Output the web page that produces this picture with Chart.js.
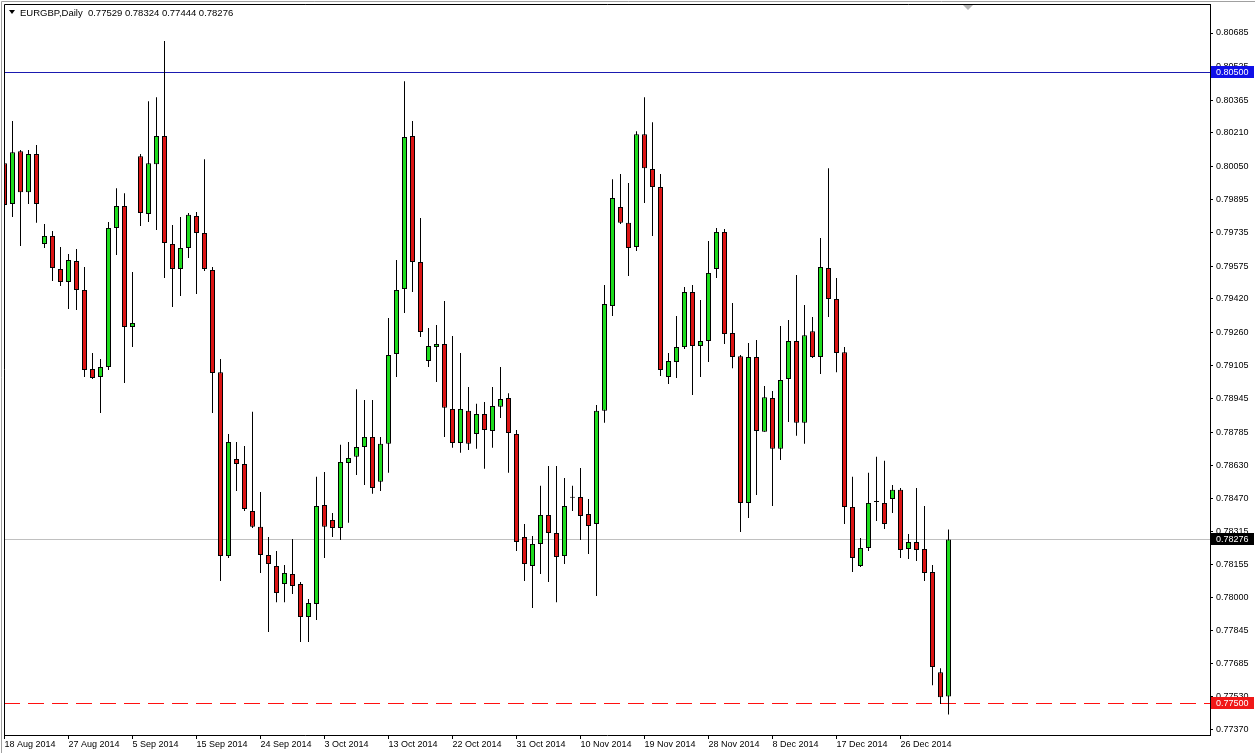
<!DOCTYPE html>
<html>
<head>
<meta charset="utf-8">
<title>EURGBP,Daily</title>
<script src="https://cdn.jsdelivr.net/npm/chart.js@4.4.1/dist/chart.umd.min.js"></script>
<style>
  html, body { margin: 0; padding: 0; background: #fff; }
  canvas { display: block; }
</style>
</head>
<body>
<canvas id="myChart" width="1255" height="753"></canvas>
<script>
const symbol = "EURGBP,Daily";

// daily candles, one per bar
const openP = [0.80066,0.79872,0.80123,0.79928,0.80109,0.79682,0.79720,0.79563,0.79501,0.79600,
  0.79463,0.79087,0.79049,0.79096,0.79758,0.79862,0.79287,0.80099,0.79824,0.80061,
  0.80195,0.79682,0.79563,0.79663,0.79815,0.79734,0.79558,0.79072,0.78197,0.78659,
  0.78635,0.78412,0.78336,0.78202,0.78150,0.78064,0.78112,0.78064,0.77907,0.77969,
  0.78440,0.78369,0.78331,0.78640,0.78669,0.78716,0.78764,0.78550,0.78731,0.79158,
  0.79467,0.80195,0.79596,0.79125,0.79191,0.79206,0.78897,0.78735,0.78888,0.78778,
  0.78873,0.78792,0.78907,0.78949,0.78778,0.78288,0.78150,0.78255,0.78393,0.78307,
  0.78197,0.78474,0.78478,0.78397,0.78350,0.78888,0.79386,0.79858,0.79782,0.79667,
  0.80204,0.80038,0.79952,0.79049,0.79120,0.79191,0.79453,0.79196,0.79220,0.79563,
  0.79739,0.79258,0.79148,0.78450,0.79144,0.78788,0.78949,0.78707,0.79039,0.79220,
  0.78831,0.79267,0.79144,0.79567,0.79420,0.79167,0.78431,0.78150,0.78236,0.78454,
  0.78450,0.78469,0.78512,0.78231,0.78264,0.78231,0.78121,0.77645,0.77529];
const highP = [0.80080,0.80266,0.80128,0.80128,0.80152,0.79777,0.79743,0.79667,0.79634,0.79658,
  0.79572,0.79163,0.79134,0.79786,0.79947,0.79923,0.79548,0.80109,0.80361,0.80380,
  0.80647,0.79772,0.79810,0.79829,0.79834,0.80085,0.79572,0.79134,0.78778,0.78740,
  0.78721,0.78883,0.78502,0.78288,0.78221,0.78155,0.78278,0.78074,0.77993,0.78574,
  0.78597,0.78402,0.78726,0.78740,0.78991,0.78940,0.78940,0.78764,0.79329,0.79605,
  0.80456,0.80266,0.79805,0.79282,0.79296,0.79410,0.79244,0.79163,0.79001,0.78921,
  0.78930,0.79001,0.79096,0.78972,0.78797,0.78350,0.78293,0.78531,0.78626,0.78626,
  0.78569,0.78531,0.78616,0.78469,0.78916,0.79486,0.79990,0.80014,0.79971,0.80218,
  0.80380,0.80261,0.80014,0.79163,0.79339,0.79477,0.79486,0.79415,0.79696,0.79758,
  0.79753,0.79401,0.79153,0.79210,0.79225,0.79006,0.78982,0.79291,0.79320,0.79534,
  0.79391,0.79334,0.79710,0.80042,0.79520,0.79191,0.78574,0.78283,0.78593,0.78669,
  0.78650,0.78535,0.78521,0.78302,0.78521,0.78435,0.78155,0.77664,0.78324];
const lowP = [0.79829,0.79810,0.79672,0.79872,0.79782,0.79663,0.79505,0.79482,0.79372,0.79367,
  0.79049,0.79039,0.78878,0.79082,0.79629,0.79020,0.79191,0.79767,0.79786,0.79748,
  0.79520,0.79382,0.79434,0.79615,0.79444,0.79553,0.78878,0.78078,0.78188,0.78507,
  0.78412,0.78331,0.78117,0.77836,0.77978,0.77978,0.78017,0.77788,0.77788,0.77893,
  0.78188,0.78288,0.78274,0.78355,0.78583,0.78535,0.78493,0.78507,0.78593,0.79049,
  0.79353,0.79453,0.79239,0.79096,0.79025,0.78764,0.78712,0.78688,0.78702,0.78707,
  0.78612,0.78712,0.78854,0.78593,0.78221,0.78078,0.77950,0.78112,0.78074,0.77978,
  0.78159,0.78412,0.78274,0.78207,0.78007,0.78831,0.79339,0.79777,0.79529,0.79648,
  0.79877,0.79720,0.79053,0.79015,0.79044,0.79182,0.78963,0.79049,0.79120,0.79520,
  0.79206,0.79091,0.78312,0.78378,0.78488,0.78788,0.78435,0.78654,0.78835,0.78769,
  0.78731,0.79139,0.79063,0.79334,0.79072,0.78350,0.78121,0.78145,0.78221,0.78364,
  0.78326,0.78402,0.78188,0.78183,0.78174,0.78078,0.77583,0.77494,0.77444];
const closeP = [0.79867,0.80118,0.79928,0.80109,0.79872,0.79720,0.79567,0.79501,0.79605,0.79463,
  0.79082,0.79044,0.79096,0.79758,0.79862,0.79287,0.79306,0.79829,0.80066,0.80195,
  0.79686,0.79563,0.79663,0.79820,0.79734,0.79563,0.79068,0.78197,0.78740,0.78635,
  0.78421,0.78336,0.78202,0.78159,0.78021,0.78117,0.78055,0.77907,0.77974,0.78435,
  0.78336,0.78331,0.78645,0.78664,0.78716,0.78764,0.78521,0.78731,0.79153,0.79463,
  0.80190,0.79596,0.79263,0.79196,0.79206,0.78902,0.78735,0.78897,0.78731,0.78873,
  0.78797,0.78911,0.78944,0.78783,0.78264,0.78159,0.78255,0.78393,0.78307,0.78193,
  0.78435,0.78474,0.78388,0.78340,0.78888,0.79396,0.79900,0.79782,0.79663,0.80204,
  0.80042,0.79952,0.79082,0.79125,0.79191,0.79453,0.79196,0.79220,0.79544,0.79739,
  0.79253,0.79144,0.78450,0.79144,0.78792,0.78953,0.78707,0.79034,0.79220,0.78831,
  0.79248,0.79144,0.79572,0.79420,0.79163,0.78431,0.78188,0.78236,0.78450,0.78454,
  0.78350,0.78512,0.78226,0.78264,0.78226,0.78117,0.77669,0.77526,0.78276];

// date label every 8 bars
const labelEvery = 8;
const dateLabels = ["18 Aug 2014","27 Aug 2014","5 Sep 2014","15 Sep 2014","24 Sep 2014",
  "3 Oct 2014","13 Oct 2014","22 Oct 2014","31 Oct 2014","10 Nov 2014","19 Nov 2014",
  "28 Nov 2014","8 Dec 2014","17 Dec 2014","26 Dec 2014"];

// price scale labels
const priceTicks = [0.80685,0.80525,0.80365,0.80210,0.80050,0.79895,0.79735,0.79575,0.79420,
  0.79260,0.79105,0.78945,0.78785,0.78630,0.78470,0.78315,0.78155,0.78000,0.77845,
  0.77685,0.77530,0.77370];

// horizontal levels
const resistLevel = 0.80500;
const supportLevel = 0.77500;
const bidPrice = closeP[closeP.length - 1];

const upColor = "#1ddc1d";
const downColor = "#dc1414";
const fontFam = "'Liberation Sans', Arial, sans-serif";

Chart.defaults.font.family = fontFam;
Chart.defaults.font.size = 9;
Chart.defaults.color = "#000";

const idx = openP.map((_, i) => i);
const wickData = idx.map(i => ({x: i, y: [lowP[i], highP[i]]}));
const bodyData = idx.map(i => ({x: i, y: [openP[i], closeP[i]]}));
const bodyColors = idx.map(i => closeP[i] > openP[i] ? upColor : (closeP[i] < openP[i] ? downColor : "#000"));

// 1px horizontal line, solid or dashed (on/off lengths)
function hLine(c, a, value, scale, color, on, off) {
    const py = Math.round(scale.getPixelForValue(value));
    c.save();
    c.fillStyle = color;
    if (!on) {
        c.fillRect(a.left, py, a.right - a.left, 1);
    } else {
        for (let x = a.left; x < a.right; x += on + off) {
            c.fillRect(x, py, Math.min(on, a.right - x), 1);
        }
    }
    c.restore();
}

// MT4 style extras: levels, price boxes, header, frame
const mtDecor = {
    id: "mtDecor",
    beforeDraw(chart) {
        const c = chart.ctx;
        c.save();
        c.fillStyle = "#fff";
        c.fillRect(0, 0, chart.width, chart.height);
        c.restore();
    },
    beforeDatasetsDraw(chart) {
        const c = chart.ctx;
        const a = chart.chartArea;
        const y = chart.scales.y;
        hLine(c, a, bidPrice, y, "#c0c0c0");
        hLine(c, a, resistLevel, y, "#1a1ab0");
        hLine(c, a, supportLevel, y, "#ff1010", 16, 8);
    },
    afterDraw(chart) {
        const c = chart.ctx;
        const a = chart.chartArea;
        const y = chart.scales.y;
        c.save();
        // outer window frame
        c.strokeStyle = "#a0a0a0";
        c.lineWidth = 1;
        c.beginPath();
        c.moveTo(1.5, chart.height); c.lineTo(1.5, 1.5); c.lineTo(chart.width, 1.5);
        c.stroke();
        // plot frame top + left
        c.strokeStyle = "#000";
        c.beginPath();
        c.moveTo(a.left + 0.5, a.bottom); c.lineTo(a.left + 0.5, a.top + 0.5); c.lineTo(a.right, a.top + 0.5);
        c.stroke();

        // chart shift marker
        c.fillStyle = "#b4b4b4";
        c.beginPath(); c.moveTo(963, 5); c.lineTo(973, 5); c.lineTo(968, 10); c.closePath(); c.fill();

        // header
        c.fillStyle = "#000";
        c.beginPath(); c.moveTo(9, 10); c.lineTo(15, 10); c.lineTo(12, 14); c.closePath(); c.fill();
        const last = openP.length - 1;
        const ohlc = [openP[last], highP[last], lowP[last], closeP[last]].map(v => v.toFixed(5)).join(" ");
        c.font = "9.5px " + fontFam;
        c.textBaseline = "middle";
        c.textAlign = "left";
        c.fillText(symbol + "  " + ohlc, 20, 13);

        // price boxes on the axis
        c.font = "9px " + fontFam;
        const boxes = [
            {v: resistLevel, bg: "#1010e8"},
            {v: bidPrice, bg: "#000"},
            {v: supportLevel, bg: "#f01818"}
        ];
        boxes.forEach(b => {
            const py = Math.round(y.getPixelForValue(b.v));
            c.fillStyle = b.bg;
            c.fillRect(a.right + 1, py - 6, 43, 12);
            c.fillStyle = "#fff";
            c.fillText(b.v.toFixed(5), a.right + 6, py + 0.5);
        });
        c.restore();
    }
};

const ctx = document.getElementById("myChart").getContext("2d");

new Chart(ctx, {
    type: "bar",
    data: {
        datasets: [
            {
                label: "body",
                data: bodyData,
                backgroundColor: bodyColors,
                borderColor: "#000",
                borderWidth: 1,
                borderSkipped: false,
                barThickness: 5,
                minBarLength: 1,
                inflateAmount: 0,
                grouped: false,
                order: 1
            },
            {
                label: "wick",
                data: wickData,
                backgroundColor: "#000",
                borderWidth: 0,
                barThickness: 1,
                inflateAmount: 0,
                grouped: false,
                order: 2
            }
        ]
    },
    options: {
        responsive: false,
        animation: false,
        layout: {padding: {left: 4, top: 4, right: 0, bottom: 0}},
        plugins: {
            legend: {display: false},
            tooltip: {enabled: false}
        },
        scales: {
            x: {
                type: "linear",
                min: -0.0625,
                max: 150.6875,
                offset: false,
                bounds: "data",
                grid: {display: true, drawOnChartArea: false, drawTicks: true, tickLength: 4, color: "#000", offset: false},
                border: {display: true, color: "#000"},
                ticks: {
                    align: "start",
                    maxRotation: 0,
                    autoSkip: false,
                    padding: 0,
                    color: "#000",
                    font: {size: 9},
                    callback: (v, i) => dateLabels[i]
                },
                afterBuildTicks: s => { s.ticks = dateLabels.map((_, j) => ({value: j * labelEvery})); },
                afterFit: s => { s.height = 18; s.paddingLeft = 0; s.paddingRight = 0; }
            },
            y: {
                position: "right",
                min: 0.77346,
                max: 0.80823,
                bounds: "data",
                beginAtZero: false,
                grid: {display: true, drawOnChartArea: false, drawTicks: true, tickLength: 3, color: "#000"},
                border: {display: true, color: "#000"},
                ticks: {
                    padding: 3,
                    autoSkip: false,
                    color: "#000",
                    font: {size: 9},
                    callback: v => Number(v).toFixed(5)
                },
                afterBuildTicks: s => { s.ticks = priceTicks.map(v => ({value: v})); },
                afterFit: s => { s.width = 45; s.paddingTop = 0; s.paddingBottom = 0; }
            }
        }
    },
    plugins: [mtDecor]
});
</script>
</body>
</html>
